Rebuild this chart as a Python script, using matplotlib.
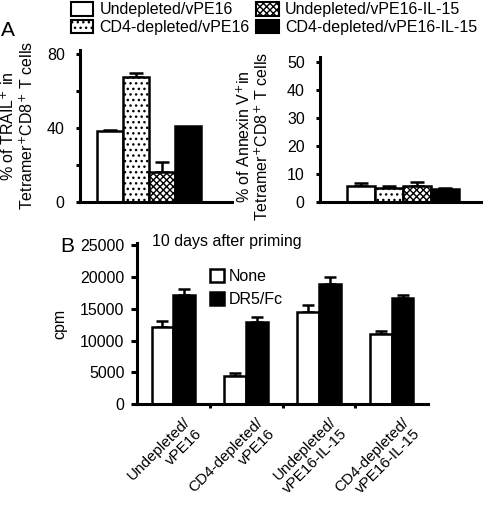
import matplotlib.pyplot as plt
from matplotlib.patches import Patch
from matplotlib.transforms import ScaledTranslation

plt.rcParams['font.family'] = ['Liberation Sans', 'DejaVu Sans']
plt.rcParams['font.size'] = 11.5
plt.rcParams['hatch.linewidth'] = 1.0

# dados
grupos = ['Undepleted/vPE16', 'CD4-depleted/vPE16',
          'Undepleted/vPE16-IL-15', 'CD4-depleted/vPE16-IL-15']
trail = [38, 67.6, 16, 40.7]
trail_err = [0.8, 2.0, 5.3, 0]
annexin = [5.5, 5.0, 5.6, 4.4]
annexin_err = [1.2, 0.6, 1.6, 0.5]

rotulos_b = ['Undepleted/\nvPE16', 'CD4-depleted/\nvPE16',
             'Undepleted/\nvPE16-IL-15', 'CD4-depleted/\nvPE16-IL-15']
cpm_none = [12200, 4500, 14500, 11100]
cpm_none_err = [900, 350, 1000, 450]
cpm_dr5 = [17100, 12900, 18900, 16750]
cpm_dr5_err = [1000, 850, 1000, 330]

faces = ['white', 'white', 'white', 'black']
hatches = [None, '...', 'xxxxx', None]

W, H = 483, 507
fig = plt.figure(figsize=(W / 100, H / 100), dpi=100)


def eixo(x0, x1, y_top, y_bot):
    return fig.add_axes([x0 / W, 1 - y_bot / H, (x1 - x0) / W, (y_bot - y_top) / H])


def estilo(ax):
    for s in ['top', 'right']:
        ax.spines[s].set_visible(False)
    for s in ['left', 'bottom']:
        ax.spines[s].set_linewidth(2.2)
    ax.tick_params(axis='y', width=2.2, length=3, pad=8)


def barras_a(ax, vals, errs):
    xs = range(len(vals))
    for i in xs:
        ax.bar(i, vals[i], width=1.0, color=faces[i], edgecolor='black',
               hatch=hatches[i], linewidth=1.8, zorder=2)
        if errs[i] > 0:
            ax.errorbar(i, vals[i], yerr=[[0], [errs[i]]], fmt='none',
                        ecolor='black', elinewidth=1.8, capsize=5, capthick=1.8, zorder=1)


# painel A esquerda
ax1 = eixo(80, 232, 50, 201.7)
estilo(ax1)
barras_a(ax1, trail, trail_err)
ax1.set_xlim(-1.154, 4.69)
ax1.set_ylim(0, 82)
ax1.set_yticks([0, 20, 40, 60, 80])
ax1.set_yticklabels(['0', '', '40', '', '80'])
ax1.set_xticks([])
ax1.set_ylabel('% of TRAIL$^{+}$ in\nTetramer$^{+}$CD8$^{+}$ T cells', linespacing=1.1)
ax1.yaxis.set_label_coords(-0.29, 0.5)

# painel A direita
ax2 = eixo(320, 482, 57, 201.7)
estilo(ax2)
barras_a(ax2, annexin, annexin_err)
ax2.set_xlim(-1.464, 4.32)
ax2.set_ylim(0, 51.7)
ax2.set_yticks([0, 10, 20, 30, 40, 50])
ax2.set_xticks([])
ax2.set_ylabel('% of Annexin V$^{+}$in\nTetramer$^{+}$CD8$^{+}$ T cells', linespacing=1.1)
ax2.yaxis.set_label_coords(-0.30, 0.45)

# legenda do painel A
handles = [Patch(facecolor=faces[i], edgecolor='black', hatch=hatches[i], linewidth=1.5)
           for i in range(4)]
fig.legend(handles, grupos, ncol=2, loc='upper left', bbox_to_anchor=(63 / W, 1.012),
           frameon=False, fontsize=11.5, handlelength=1.4, handleheight=0.95,
           handletextpad=0.4, columnspacing=0.4, labelspacing=0.15, borderaxespad=0.1)

# painel B
ax3 = eixo(137, 428, 243, 404.3)
estilo(ax3)
ax3.tick_params(axis='y', pad=5, length=4)
xs = list(range(len(cpm_none)))
ax3.bar([x - 0.15 for x in xs], cpm_none, width=0.3, color='white', edgecolor='black',
        linewidth=1.8, label='None', zorder=2)
ax3.bar([x + 0.15 for x in xs], cpm_dr5, width=0.3, color='black', edgecolor='black',
        linewidth=1.8, label='DR5/Fc', zorder=2)
ax3.errorbar([x - 0.15 for x in xs], cpm_none, yerr=[[0] * 4, cpm_none_err], fmt='none',
             ecolor='black', elinewidth=1.8, capsize=4, capthick=1.8, zorder=1)
ax3.errorbar([x + 0.15 for x in xs], cpm_dr5, yerr=[[0] * 4, cpm_dr5_err], fmt='none',
             ecolor='black', elinewidth=1.8, capsize=4, capthick=1.8, zorder=1)
ax3.set_xlim(-0.5, 3.5)
ax3.set_ylim(0, 25300)
ax3.set_yticks([0, 5000, 10000, 15000, 20000, 25000])
ax3.set_xticks(xs)
ax3.set_xticklabels(rotulos_b, rotation=45, ha='right', va='top', rotation_mode='anchor',
                    fontsize=11)
ax3.tick_params(axis='x', length=0, pad=8)
ax3.set_xticks([0.5, 1.5, 2.5], minor=True)
ax3.tick_params(axis='x', which='minor', length=3, width=2.2, direction='out')
for lab in ax3.get_xticklabels():
    lab.set_transform(lab.get_transform() + ScaledTranslation(0.10, 0, fig.dpi_scale_trans))
ax3.set_ylabel('cpm', labelpad=9)
ax3.text(0.052, 1.01, '10 days after priming', transform=ax3.transAxes,
         ha='left', va='center', fontsize=11.5)
ax3.legend(loc='upper left', bbox_to_anchor=(0.2, 0.93), frameon=False, fontsize=11.5,
           handlelength=0.9, handleheight=0.9, handletextpad=0.3, labelspacing=0.5)

fig.text(1 / W, 1 - 30 / H, 'A', fontsize=15, ha='left', va='center')
fig.text(60 / W, 1 - 246 / H, 'B', fontsize=15, ha='left', va='center')

fig.savefig('out.png', dpi=100)
